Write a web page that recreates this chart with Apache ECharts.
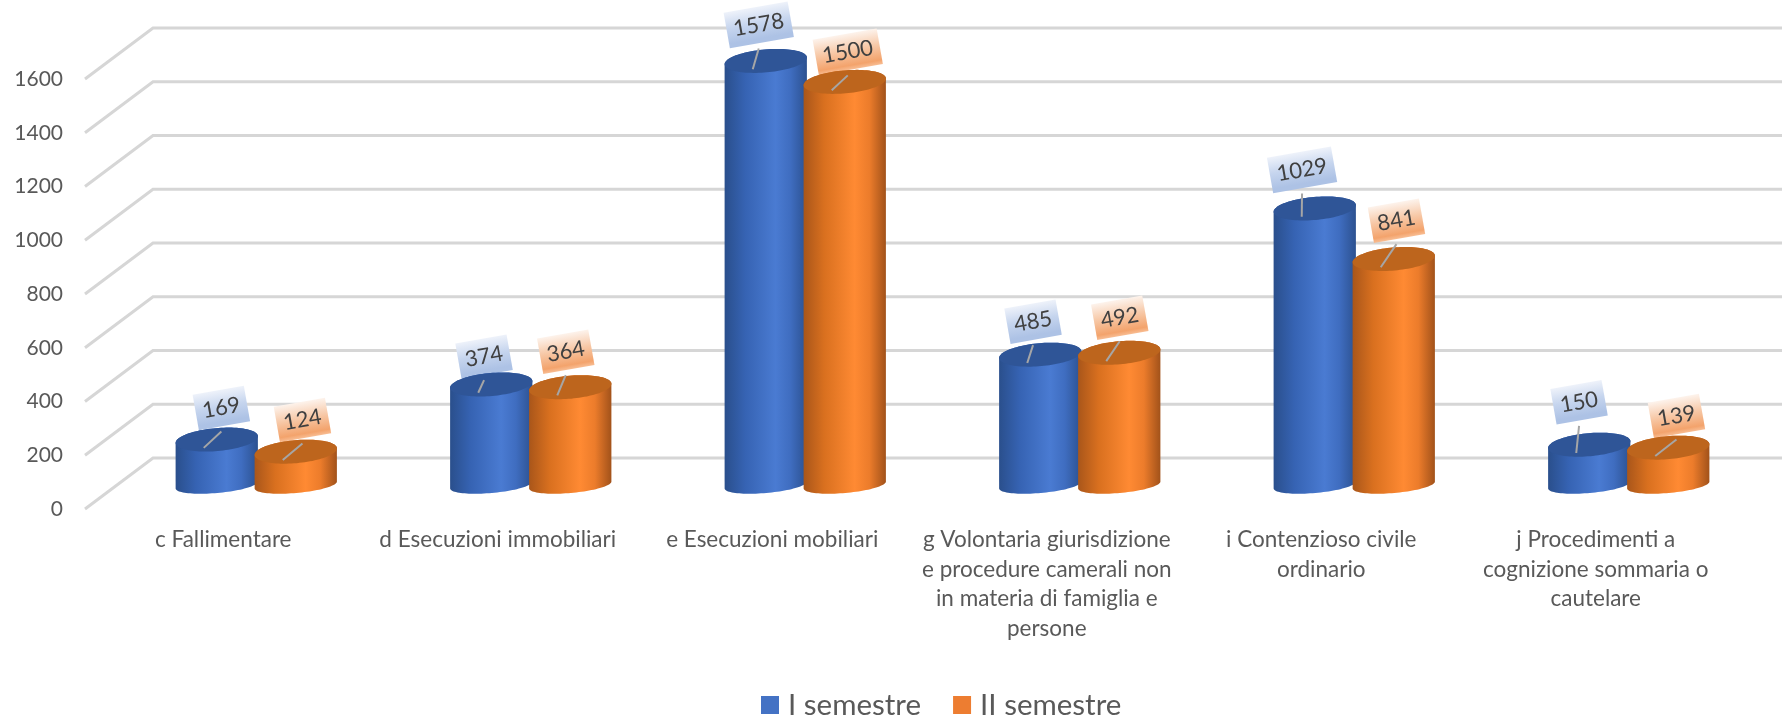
<!DOCTYPE html>
<html><head><meta charset="utf-8">
<style>html,body{margin:0;padding:0;background:#fff}#c{width:1782px;height:719px}</style>
<script src="https://cdn.jsdelivr.net/npm/echarts@6/dist/echarts.min.js"></script>
</head><body><div id="c"></div>
<script>
var categories = [
  'c Fallimentare',
  'd Esecuzioni immobiliari',
  'e Esecuzioni mobiliari',
  'g Volontaria giurisdizione\ne procedure camerali non\nin materia di famiglia e\npersone',
  'i Contenzioso civile\nordinario',
  'j Procedimenti a\ncognizione sommaria o\ncautelare'
];
var semestreI  = [169, 374, 1578, 485, 1029, 150];
var semestreII = [124, 364, 1500, 492, 841, 139];
var yTicks = [0, 200, 400, 600, 800, 1000, 1200, 1400, 1600];
var seriesNames = ['I semestre', 'II semestre'];

// callout placement relative to the top of each cylinder (style, not data)
var calloutI  = [[4.6,-31.6],[-7.2,-27.8],[-7,-36],[-7.2,-33],[-12.7,-38.5],[-10.2,-42.4]];
var calloutII = [[6.7,-31.7],[-4.5,-35.5],[3,-30],[0.5,-35],[2.7,-38.3],[8.2,-31.6]];

var FONT = 'Lato';
var DEPTH = {dx:68, dy:-51};        // back wall offset
var BAR = {dx:33, dy:-24, rx:41.3, ryTop:11.5, ryBase:8, tilt:5, side:39.5};
var PAL = [
  {side:['#2a4f8c','#3663b3','#4a7bd2','#3f6dc0','#2c5190'], top:'#2f5597',
   label:['#eef2fa','#c6d5ee','#adc2e5','#adc2e5'], solid:'#4472c4'},
  {side:['#a9561a','#d9701f','#ff8a33','#ec7c2b','#a2521a'], top:'#bd651d',
   label:['#fdf3ec','#f7c9a8','#f3a36c','#f8bd93'], solid:'#ed7d31'}
];

function renderGrid(params, api){
  var y = api.coord([0, api.value(0)])[1];
  var x = params.coordSys.x - 1;
  return {type:'polyline', silent:true, z2:1,
    shape:{points:[[x,y],[x+DEPTH.dx,y+DEPTH.dy],[api.getWidth(),y+DEPTH.dy]]},
    style:{stroke:'#d6d6d6', lineWidth:3, fill:null}};
}

// point on a tilted ellipse; a runs over 0..2PI with 0 at the right end, PI/2 at the front
function ell(cx, cy, rx, ry, a){
  var c = Math.cos(BAR.tilt*Math.PI/180), s = Math.sin(BAR.tilt*Math.PI/180);
  var ex = rx*Math.cos(a), ey = ry*Math.sin(a);
  return [cx + ex*c + ey*s, cy - ex*s + ey*c];
}

function cylinder(sIdx, offsets){
  return function(params, api){
    var p = PAL[sIdx], r = BAR.rx, N = 48, i;
    var top = api.coord([api.value(0), api.value(1)]);
    var base = api.coord([api.value(0), 0]);
    var cx = top[0] + BAR.dx + (sIdx ? BAR.side : -BAR.side);
    var ty = top[1] + BAR.dy, by = base[1] + BAR.dy;
    var body = [], lid = [];
    for (i=0;i<=N;i++) body.push(ell(cx,by,r,BAR.ryBase,Math.PI*i/N));     // front of base, right to left
    for (i=0;i<=N;i++) body.push(ell(cx,ty,r,BAR.ryTop,Math.PI+Math.PI*i/N)); // back of lid, left to right
    for (i=0;i<N*2;i++) lid.push(ell(cx,ty,r,BAR.ryTop,Math.PI*i/N));
    var off = offsets[params.dataIndex];
    var lx = cx+off[0], ly = ty+off[1];
    var txt = String(api.value(1));
    var w = 13*txt.length+13, h = 36;
    var rot = 10*Math.PI/180;
    var stops = p.side.map(function(c,k){return {offset:[0,.25,.62,.8,1][k], color:c};});
    return {type:'group', children:[
      {type:'group', x:lx, y:ly, rotation:rot, children:[
        {type:'rect', shape:{x:-w/2,y:-h/2,width:w,height:h},
         style:{fill:{type:'linear',x:0,y:0,x2:0,y2:1,colorStops:[
           {offset:0,color:p.label[0]},{offset:.45,color:p.label[1]},{offset:.88,color:p.label[2]},{offset:1,color:p.label[3]}]}}},
        {type:'text', style:{text:txt,x:0,y:0,align:'center',verticalAlign:'middle',fontFamily:FONT,fontSize:22,fill:'#404040'}}
      ]},
      {type:'polygon', shape:{points:body}, style:{fill:{type:'linear',x:0,y:0,x2:1,y2:0,colorStops:stops}}},
      {type:'polygon', shape:{points:lid}, style:{fill:p.top}},
      {type:'line', shape:{x1:lx,y1:ly+23.5,x2:cx-13,y2:ty+8.3}, style:{stroke:'#a6a6a6',lineWidth:2}}
    ]};
  };
}

function pairs(v){ return v.map(function(y,i){return [i,y];}); }

var chart = echarts.init(document.getElementById('c'), null, {renderer:'canvas'});
chart.setOption({
  animation:false,
  backgroundColor:'#fff',
  grid:{left:86, width:1647, top:79, height:430, containLabel:false},
  legend:{data:seriesNames, icon:'rect', itemWidth:18, itemHeight:18, itemGap:32, left:761, top:690, padding:0,
    textStyle:{fontFamily:FONT, fontSize:29.5, color:'#595959', padding:[0,0,0,4]}, selectedMode:false},
  xAxis:{type:'category', data:categories, axisLine:{show:false}, axisTick:{show:false}, splitLine:{show:false},
    axisLabel:{interval:0, margin:16, fontFamily:FONT, fontSize:22.5, lineHeight:29.5, color:'#595959', align:'center'}},
  yAxis:{type:'value', min:0, max:1600, interval:200, axisLine:{show:false}, axisTick:{show:false}, splitLine:{show:false},
    axisLabel:{margin:23, fontFamily:FONT, fontSize:21, color:'#595959', padding:[2,0,0,0], formatter:function(v){return String(v);}}},
  series:[
    {type:'custom', name:'grid', data:yTicks.map(function(v){return [v];}), renderItem:renderGrid, z:1, silent:true, encode:{y:0}, clip:false},
    {type:'custom', name:seriesNames[0], data:pairs(semestreI), renderItem:cylinder(0,calloutI), itemStyle:{color:PAL[0].solid}, z:3, silent:true, encode:{x:0,y:1}, clip:false},
    {type:'custom', name:seriesNames[1], data:pairs(semestreII), renderItem:cylinder(1,calloutII), itemStyle:{color:PAL[1].solid}, z:4, silent:true, encode:{x:0,y:1}, clip:false}
  ]
});
</script></body></html>
